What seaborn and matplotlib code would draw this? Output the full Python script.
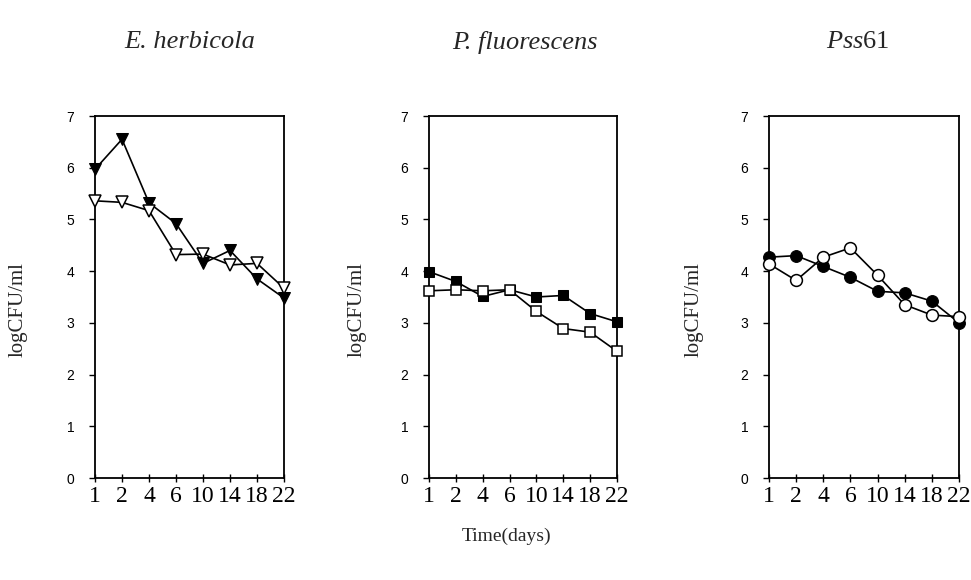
import matplotlib
matplotlib.use("Agg")
import matplotlib.pyplot as plt
import seaborn as sns
import pandas as pd

sns.set_theme(style="white")
plt.rcParams["font.family"] = ["Liberation Serif", "DejaVu Serif"]
plt.rcParams["mathtext.fontset"] = "custom"
plt.rcParams["mathtext.rm"] = "Liberation Serif"
plt.rcParams["mathtext.it"] = "Liberation Serif:italic"

# Sampling days (evenly spaced categories on the x axis)
days = ["1", "2", "4", "6", "10", "14", "18", "22"]

# E. herbicola
eh_filled = [5.97, 6.55, 5.32, 4.92, 4.15, 4.40, 3.85, 3.48]
eh_open = [5.36, 5.33, 5.17, 4.32, 4.33, 4.12, 4.15, 3.67]

# P. fluorescens
pf_filled = [3.99, 3.80, 3.51, 3.64, 3.50, 3.53, 3.18, 3.02]
pf_open = [3.62, 3.64, 3.62, 3.64, 3.22, 2.89, 2.82, 2.45]

# Pss61
pss_filled = [4.27, 4.30, 4.09, 3.88, 3.61, 3.58, 3.42, 3.00]
pss_open = [4.14, 3.82, 4.27, 4.45, 3.92, 3.35, 3.15, 3.12]

titles = ["E. herbicola", "P. fluorescens", r"$\it{Pss}$61"]
panels = [(eh_filled, eh_open, "v"), (pf_filled, pf_open, "s"), (pss_filled, pss_open, "o")]
msizes = {"v": 8, "s": 6.5, "o": 8.5}

fig = plt.figure(figsize=(9.71, 5.8), dpi=100)
lefts = [95 / 971, 429 / 971, 769 / 971]
widths = [189 / 971, 188 / 971, 190 / 971]
title_x = [190, 525, 858]
ylab_x = [18, 357, 694]

pos = list(range(len(days)))
for i, ((filled, opened, mk), title) in enumerate(zip(panels, titles)):
    ax = fig.add_axes([lefts[i], 102 / 580, widths[i], 362 / 580])
    df = pd.DataFrame({"pos": pos * 2,
                       "val": filled + opened,
                       "kind": ["filled"] * len(pos) + ["open"] * len(pos)})
    sns.lineplot(data=df[df.kind == "filled"], x="pos", y="val", ax=ax,
                 color="black", lw=1.2, marker=mk, markersize=msizes[mk],
                 markerfacecolor="black", markeredgecolor="black", zorder=3,
                 clip_on=False)
    sns.lineplot(data=df[df.kind == "open"], x="pos", y="val", ax=ax,
                 color="black", lw=1.2, marker=mk, markersize=msizes[mk],
                 markerfacecolor="white", markeredgecolor="black",
                 markeredgewidth=1.1, zorder=4, clip_on=False)
    ax.set_xlim(0, len(days) - 1)
    ax.set_ylim(0, 7)
    ax.set_xticks(pos)
    ax.set_xticklabels(days, fontsize=17, family="Liberation Serif")
    ax.set_yticks(range(0, 8))
    ax.set_yticklabels([str(v) for v in range(0, 8)], fontsize=10,
                       family="Liberation Sans")
    ax.tick_params(axis="x", direction="inout", length=6, width=1.0, pad=3,
                   bottom=True, colors="black")
    ax.tick_params(axis="y", direction="out", length=4, width=1.0, pad=11,
                   left=True, colors="black")
    for s in ax.spines.values():
        s.set_color("black")
        s.set_linewidth(1.3)
    ax.set_xlabel("")
    ax.set_ylabel("")
    fig.text(ylab_x[i] / 971, 1 - 310 / 580, "logCFU/ml", rotation=90,
             ha="center", va="center", fontsize=15, family="Liberation Serif")
    if i < 2:
        fig.text(title_x[i] / 971, 1 - 42 / 580, title, ha="center",
                 va="center", fontsize=19, style="italic")
    else:
        fig.text(title_x[i] / 971, 1 - 42 / 580, title, ha="center",
                 va="center", fontsize=19)

fig.text(507 / 971, 1 - 536 / 580, "Time(days)", ha="center", va="center",
         fontsize=14, family="Liberation Serif")

fig.savefig("out.png", dpi=100, facecolor="white")
